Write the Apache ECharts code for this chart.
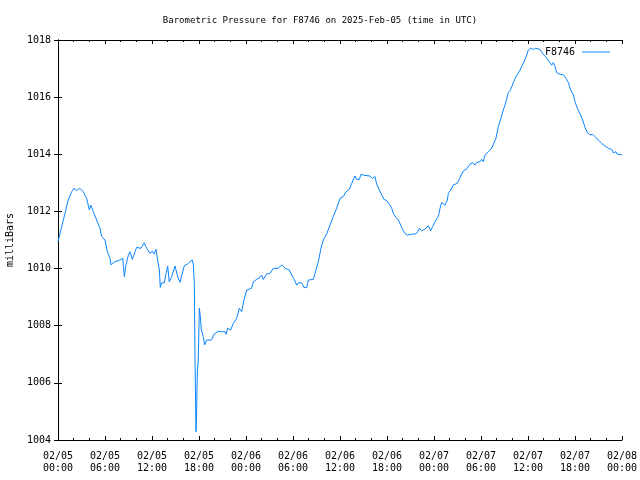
<!DOCTYPE html>
<html><head><meta charset="utf-8">
<script src="https://cdn.jsdelivr.net/npm/echarts@6/dist/echarts.min.js"></script>
<style>html,body{margin:0;padding:0;background:#fff}#c{width:640px;height:480px}</style>
</head><body><div id="c"></div>
<script>
const hours = [0,0.47,0.89,1.3,1.74,2.04,2.38,2.8,3.23,3.66,4.0,4.2,4.5,4.94,5.36,5.57,6.0,6.3,6.64,6.77,7.28,7.91,8.13,8.26,8.47,8.68,8.98,9.19,9.49,9.83,10.04,10.6,11.0,11.32,11.74,12.04,12.26,12.51,12.72,12.94,13.06,13.23,13.57,13.79,14.0,14.2,14.51,14.94,15.28,15.57,15.79,16.13,16.55,16.85,17.15,17.28,17.4,17.49,17.62,17.7,17.79,17.91,18.04,18.17,18.3,18.55,18.72,18.98,19.6,19.91,20.46,20.89,21.1,21.32,21.45,21.66,22.04,22.38,22.81,23.15,23.45,23.74,24.09,24.3,24.72,24.94,25.36,25.79,26.0,26.21,26.64,27.06,27.49,28.13,28.56,28.98,29.53,29.83,30.17,30.47,30.68,31.11,31.4,31.75,31.96,32.6,32.94,33.23,33.57,33.87,34.3,34.72,35.14,35.57,36.0,36.43,36.77,37.19,37.49,37.91,38.13,38.47,38.68,38.98,39.19,39.79,40.17,40.47,40.68,41.02,41.32,41.62,41.96,42.3,42.6,42.81,43.15,43.45,43.75,44.0,44.3,44.6,44.85,45.15,45.57,45.87,46.13,46.43,46.85,47.28,47.57,47.83,48.26,48.55,48.77,48.98,49.4,49.7,49.83,50.13,50.47,50.98,51.23,51.53,51.74,52.17,52.6,52.94,53.23,53.45,53.87,54.09,54.3,54.51,54.94,55.36,55.57,55.91,56.21,56.55,56.85,57.19,57.49,57.79,58.13,58.47,58.89,59.19,59.49,59.83,60.04,60.34,60.68,60.98,61.23,61.53,61.87,62.3,62.72,63.02,63.23,63.45,63.66,64.09,64.51,64.85,65.15,65.45,65.79,66.0,66.3,66.64,66.98,67.28,67.57,67.91,68.26,68.55,68.98,69.4,69.83,70.26,70.68,70.89,71.23,71.4,71.74,72];
const pressure = [1010.94,1011.47,1011.93,1012.4,1012.69,1012.81,1012.73,1012.81,1012.69,1012.46,1012.05,1012.22,1011.99,1011.7,1011.41,1011.12,1011.0,1010.59,1010.36,1010.13,1010.24,1010.3,1010.24,1010.36,1009.72,1010.13,1010.47,1010.59,1010.32,1010.59,1010.74,1010.71,1010.9,1010.71,1010.53,1010.61,1010.51,1010.68,1010.3,1009.95,1009.34,1009.5,1009.5,1009.83,1010.09,1009.54,1009.72,1010.09,1009.72,1009.52,1009.54,1010.1,1010.16,1010.24,1010.3,1010.13,1009.48,1006.86,1004.29,1005.05,1006.45,1006.8,1008.61,1008.32,1007.85,1007.62,1007.33,1007.5,1007.5,1007.7,1007.81,1007.79,1007.73,1007.79,1007.7,1007.91,1007.85,1008.08,1008.26,1008.61,1008.49,1008.9,1009.25,1009.31,1009.31,1009.54,1009.62,1009.69,1009.77,1009.62,1009.81,1009.83,1010.01,1010.01,1010.13,1010.01,1009.95,1009.77,1009.62,1009.42,1009.5,1009.5,1009.34,1009.33,1009.6,1009.62,1009.95,1010.24,1010.71,1011.0,1011.21,1011.52,1011.82,1012.11,1012.46,1012.52,1012.69,1012.77,1012.98,1013.24,1013.12,1013.12,1013.3,1013.27,1013.24,1013.24,1013.16,1013.22,1012.96,1012.75,1012.58,1012.42,1012.38,1012.25,1012.11,1011.93,1011.79,1011.7,1011.52,1011.37,1011.23,1011.17,1011.12,1011.2,1011.21,1011.26,1011.41,1011.32,1011.38,1011.5,1011.32,1011.47,1011.7,1011.82,1012.11,1012.31,1012.22,1012.4,1012.63,1012.75,1012.93,1012.98,1013.12,1013.31,1013.41,1013.49,1013.66,1013.71,1013.62,1013.72,1013.74,1013.82,1013.74,1013.97,1014.09,1014.21,1014.24,1014.56,1014.97,1015.26,1015.55,1015.84,1016.16,1016.27,1016.51,1016.72,1016.89,1017.07,1017.24,1017.47,1017.65,1017.71,1017.67,1017.71,1017.65,1017.67,1017.53,1017.39,1017.24,1017.12,1017.21,1017.07,1016.86,1016.8,1016.78,1016.66,1016.51,1016.25,1016.08,1015.84,1015.61,1015.41,1015.2,1014.94,1014.76,1014.68,1014.7,1014.62,1014.5,1014.38,1014.29,1014.21,1014.17,1014.05,1014.09,1014.0,1014.0,1013.98];
const xTickLabels = ['02/05\n00:00','02/05\n06:00','02/05\n12:00','02/05\n18:00','02/06\n00:00','02/06\n06:00','02/06\n12:00','02/06\n18:00','02/07\n00:00','02/07\n06:00','02/07\n12:00','02/07\n18:00','02/08\n00:00'];
const seriesName = 'F8746';
const titleText = 'Barometric Pressure for F8746 on 2025-Feb-05 (time in UTC)';
const yName = 'milliBars';

const FONT = 'DejaVu Sans Mono';
const axisLine = {show:true, lineStyle:{color:'#000', width:1}};
const chart = echarts.init(document.getElementById('c'), null, {renderer:'canvas'});
chart.setOption({
  animation:false,
  backgroundColor:'#fff',
  title:{text:titleText, left:'center', top:11, textStyle:{fontFamily:FONT, fontSize:9, fontWeight:'normal', color:'#000'}},
  legend:{data:[seriesName], right:25, top:42, align:'right', icon:'rect', itemWidth:28, itemHeight:1, itemGap:5,
    textStyle:{fontFamily:FONT, fontSize:10, color:'#000', padding:[0,2,0,0]}},
  grid:{left:58, right:18, top:40, bottom:40, containLabel:false, outerBoundsMode:'none'},
  xAxis:[
    {type:'value', min:0, max:72, interval:6, position:'bottom', axisLine:axisLine,
     axisTick:{show:true, inside:true, length:4, lineStyle:{color:'#000'}},
     minorTick:{show:true, splitNumber:3, length:2, lineStyle:{color:'#000'}},
     splitLine:{show:false},
     axisLabel:{fontFamily:FONT, fontSize:10, color:'#000', margin:10, lineHeight:12,
       formatter:function(v){return xTickLabels[Math.round(v/6)];}}},
    {type:'value', min:0, max:72, interval:6, position:'top', axisLine:axisLine,
     axisTick:{show:true, inside:true, length:4, lineStyle:{color:'#000'}},
     minorTick:{show:true, splitNumber:3, length:2, lineStyle:{color:'#000'}},
     splitLine:{show:false}, axisLabel:{show:false}}
  ],
  yAxis:[
    {type:'value', min:1004, max:1018, interval:2, position:'left', axisLine:axisLine,
     axisTick:{show:true, inside:true, length:4, lineStyle:{color:'#000'}},
     splitLine:{show:false},
     axisLabel:{fontFamily:FONT, fontSize:10, color:'#000', margin:7, formatter:function(v){return String(v);}},
     name:yName, nameLocation:'middle', nameRotate:90, nameGap:43,
     nameTextStyle:{fontFamily:FONT, fontSize:10, color:'#000'}},
    {type:'value', min:1004, max:1018, interval:2, position:'right', axisLine:axisLine,
     axisTick:{show:true, inside:true, length:4, lineStyle:{color:'#000'}},
     splitLine:{show:false}, axisLabel:{show:false}}
  ],
  series:[{
    name:seriesName, type:'line', xAxisIndex:0, yAxisIndex:0,
    data:hours.map((h,i)=>[h, pressure[i]]),
    showSymbol:false, symbol:'none', smooth:false,
    lineStyle:{color:'#0a84ff', width:1}, itemStyle:{color:'#0a84ff'}
  }]
});
</script></body></html>
